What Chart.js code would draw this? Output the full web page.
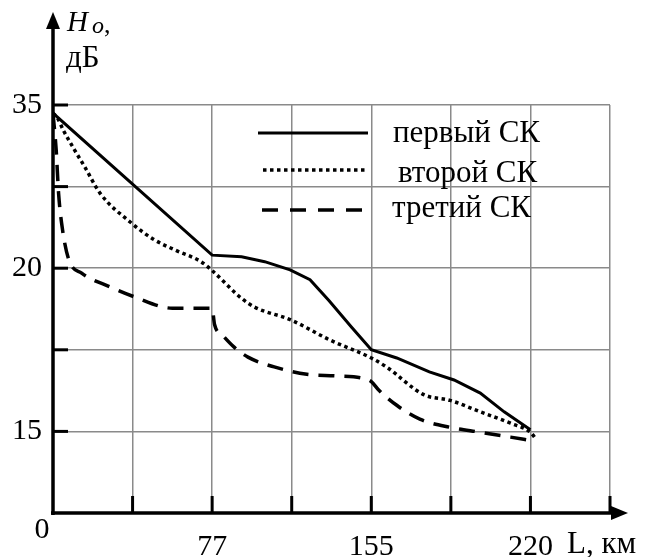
<!DOCTYPE html>
<html>
<head>
<meta charset="utf-8">
<script src="https://cdn.jsdelivr.net/npm/chart.js@4/dist/chart.umd.min.js"></script>
<style>
  html, body { margin: 0; padding: 0; background: #fff; }
  #wrap { width: 646px; height: 557px; }
</style>
</head>
<body>
<div id="wrap"><canvas id="c"></canvas></div>
<script>
// Оси на рисунке схематичные: координаты в шагах сетки.
// x: 2 -> 77 км, 4 -> 155 км, 6 -> 220 км; y: 1 -> 15, 3 -> 20, 5 -> 35 дБ
const xTickLabels = ['', '', '77', '', '155', '', '220', ''];
const yTickLabels = ['', '15', '', '20', '', '35'];

// первый СК
const firstX = [0, 2.0, 2.37, 2.66, 2.98, 3.23, 3.47, 3.75, 4.0, 4.32, 4.73, 5.04, 5.37, 5.67, 6.0];
const firstY = [4.90, 3.16, 3.14, 3.08, 2.98, 2.86, 2.60, 2.28, 2.0, 1.90, 1.73, 1.63, 1.47, 1.24, 1.02];

// второй СК
const secondX = [0, 0.05, 0.13, 0.27, 0.40, 0.59, 0.99, 1.27, 1.54, 1.86, 2.0, 2.37, 2.54, 2.98, 3.48, 4.0, 4.19, 4.66, 4.99, 5.37, 5.75, 6.0, 6.06];
const secondY = [4.90, 4.85, 4.69, 4.45, 4.24, 3.92, 3.55, 3.35, 3.22, 3.08, 2.97, 2.63, 2.52, 2.37, 2.12, 1.90, 1.79, 1.45, 1.38, 1.24, 1.10, 0.99, 0.92];

// третий СК
const thirdX = [0, 0.04, 0.07, 0.12, 0.20, 0.36, 0.72, 1.02, 1.5, 2.0, 2.03, 2.13, 2.28, 2.45, 2.78, 3.19, 3.56, 3.90, 4.0, 4.09, 4.32, 4.61, 4.99, 5.37, 5.75, 6.0];
const thirdY = [4.90, 4.45, 3.92, 3.47, 3.10, 2.94, 2.77, 2.65, 2.51, 2.51, 2.31, 2.18, 2.03, 1.91, 1.79, 1.70, 1.68, 1.65, 1.61, 1.51, 1.32, 1.15, 1.05, 0.99, 0.93, 0.89];

const seriesNames = ['первый СК', 'второй СК', 'третий СК'];

const FONT = '"Liberation Serif", "Times New Roman", serif';

function pts(xs, ys) { return xs.map((x, i) => ({ x, y: ys[i] })); }

// оси со стрелками, засечки, подписи осей и легенда
const axesPlugin = {
  id: 'axesDecor',
  afterDraw(chart) {
    const ctx = chart.ctx;
    const xs = chart.scales.x, ys = chart.scales.y;
    const x0 = xs.getPixelForValue(0), y0 = ys.getPixelForValue(0);
    ctx.save();
    ctx.strokeStyle = '#000';
    ctx.fillStyle = '#000';
    ctx.lineWidth = 3.5;
    ctx.lineCap = 'butt';

    // ось Y
    ctx.beginPath(); ctx.moveTo(x0, y0 + 2); ctx.lineTo(x0, 26); ctx.stroke();
    ctx.beginPath(); ctx.moveTo(x0, 12); ctx.lineTo(x0 - 7, 29); ctx.lineTo(x0 + 7, 29); ctx.closePath(); ctx.fill();
    // ось X
    ctx.beginPath(); ctx.moveTo(x0 - 2, y0); ctx.lineTo(614, y0); ctx.stroke();
    ctx.beginPath(); ctx.moveTo(628, y0); ctx.lineTo(611, y0 - 7); ctx.lineTo(611, y0 + 7); ctx.closePath(); ctx.fill();

    // засечки
    ctx.lineWidth = 3;
    for (let v = 1; v <= 5; v++) {
      const py = ys.getPixelForValue(v);
      ctx.beginPath(); ctx.moveTo(x0, py); ctx.lineTo(x0 + 15, py); ctx.stroke();
    }
    for (let v = 1; v <= 7; v++) {
      const px = xs.getPixelForValue(v);
      ctx.beginPath(); ctx.moveTo(px, y0); ctx.lineTo(px, y0 - 17); ctx.stroke();
    }

    // подписи осей
    ctx.textBaseline = 'alphabetic';
    ctx.textAlign = 'left';
    ctx.font = 'italic 29px ' + FONT;
    ctx.fillText('H', 67, 31);
    ctx.font = 'italic 24px ' + FONT;
    ctx.fillText('o', 92, 33);
    ctx.font = '26px ' + FONT;
    ctx.fillText(',', 104, 33);
    ctx.font = '31px ' + FONT;
    ctx.fillText('дБ', 66, 67);
    ctx.font = '30px ' + FONT;
    ctx.textAlign = 'center';
    ctx.fillText('0', 42, 538);
    ctx.textAlign = 'left';
    ctx.font = '31px ' + FONT;
    ctx.fillText('L, км', 567, 553);

    // легенда
    const rows = [
      { y: 133, x1: 258, tx: 393, ty: 142 },
      { y: 170, x1: 263, tx: 398, ty: 182 },
      { y: 210, x1: 262, tx: 392, ty: 217 }
    ];
    chart.data.datasets.forEach((ds, i) => {
      const r = rows[i];
      ctx.lineWidth = ds.borderWidth;
      ctx.setLineDash(ds.legendDash || []);
      ctx.beginPath(); ctx.moveTo(r.x1, r.y); ctx.lineTo(368, r.y); ctx.stroke();
      ctx.setLineDash([]);
      ctx.font = '31px ' + FONT;
      ctx.textAlign = 'left';
      ctx.fillText(ds.label, r.tx, r.ty);
    });
    ctx.restore();
  }
};

const tickFont = { family: FONT, size: 30 };
const gridOpts = { color: '#8a8a8a', lineWidth: 1.5, drawTicks: false };

new Chart(document.getElementById('c'), {
  type: 'line',
  data: {
    datasets: [
      { label: seriesNames[0], data: pts(firstX, firstY), borderColor: '#000', borderWidth: 3, borderDash: [], legendDash: [], tension: 0, cubicInterpolationMode: 'default' },
      { label: seriesNames[1], data: pts(secondX, secondY), borderColor: '#000', borderWidth: 3.5, borderDash: [3.5, 3.5], legendDash: [3.5, 3.5] },
      { label: seriesNames[2], data: pts(thirdX, thirdY), borderColor: '#000', borderWidth: 3.5, borderDash: [16, 10], legendDash: [16, 12] }
    ]
  },
  plugins: [axesPlugin],
  options: {
    responsive: true,
    maintainAspectRatio: false,
    animation: false,
    parsing: false,
    events: [],
    layout: { padding: { top: 105, right: 36, left: 0, bottom: 0 } },
    elements: { point: { radius: 0 }, line: { cubicInterpolationMode: 'monotone', fill: false } },
    scales: {
      x: {
        type: 'linear', min: 0, max: 7,
        afterFit(s) { s.height = 44; },
        grid: gridOpts,
        border: { display: false },
        ticks: { stepSize: 1, autoSkip: false, maxRotation: 0, padding: 16, color: '#000', font: tickFont,
                 callback: (v) => xTickLabels[v] ?? '' }
      },
      y: {
        type: 'linear', min: 0, max: 5,
        afterFit(s) { s.width = 53; },
        grid: gridOpts,
        border: { display: false },
        ticks: { stepSize: 1, autoSkip: false, padding: 11, color: '#000', font: tickFont,
                 callback: (v) => yTickLabels[v] ?? '' }
      }
    },
    plugins: { legend: { display: false }, tooltip: { enabled: false } }
  }
});
</script>
</body>
</html>
